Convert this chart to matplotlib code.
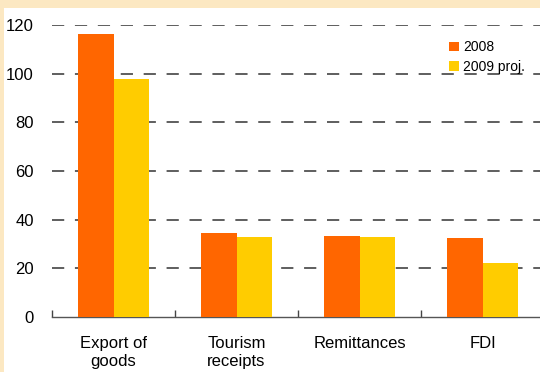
import matplotlib
matplotlib.use("Agg")
import matplotlib.pyplot as plt
import numpy as np
from matplotlib.patches import Rectangle

categories = ["Export of\ngoods", "Tourism\nreceipts", "Remittances", "FDI"]
series_names = ["2008", "2009 proj."]
vals_2008 = [116.4, 34.5, 33.2, 32.6]
vals_2009 = [97.7, 32.9, 32.9, 22.2]
yticks = [0, 20, 40, 60, 80, 100, 120]

plt.rcParams['font.family'] = ['Liberation Sans', 'DejaVu Sans']

W, H = 540, 372
fig = plt.figure(figsize=(W/100, H/100), dpi=100)
fig.patch.set_facecolor('#FCE8C2')
fig.patches.append(Rectangle((4/W, 0), 1, 1 - 8/H, transform=fig.transFigure,
                             facecolor='white', edgecolor='none', zorder=-10))

ax_left, ax_right = 52, 540
ax_bottom, ax_top = 317, 25
ax = fig.add_axes([ax_left/W, 1 - ax_bottom/H, (ax_right-ax_left)/W, (ax_bottom-ax_top)/H])
ax.set_facecolor('none')
ax.set_zorder(5)

x = np.arange(len(categories))
bw = 0.29
ax.bar(x - bw/2, vals_2008, bw, color='#FF6600', label=series_names[0], zorder=3)
ax.bar(x + bw/2, vals_2009, bw, color='#FFCC00', label=series_names[1], zorder=3)

ax.set_ylim(0, 120)
ax.set_xlim(-0.5, -0.5 + (ax_right-ax_left)/123)
ax.set_yticks(yticks)
ax.set_yticklabels([str(v) for v in yticks], fontsize=12)
ax.tick_params(axis='y', length=0, pad=13)
for v in yticks[1:]:
    ax.axhline(v, color='#333333', lw=1.1, dashes=(8, 7), zorder=1)

ax.set_xticks(x)
ax.set_xticklabels(categories, fontsize=12, linespacing=1.2)
ax.tick_params(axis='x', length=0, pad=14)
ax.set_xticks(np.arange(len(categories)) - 0.5, minor=True)
ax.tick_params(axis='x', which='minor', direction='in', length=5, color='#444444', width=1)

for s in ['top', 'right', 'left']:
    ax.spines[s].set_visible(False)
ax.spines['bottom'].set_color('#555555')
ax.spines['bottom'].set_linewidth(1)

leg = ax.legend(loc='upper right', bbox_to_anchor=(0.995, 0.99), frameon=False, fontsize=10,
                handlelength=0.7, handleheight=0.7, handletextpad=0.3, labelspacing=0.4)

fig.savefig('out.png', dpi=100, facecolor=fig.get_facecolor())
